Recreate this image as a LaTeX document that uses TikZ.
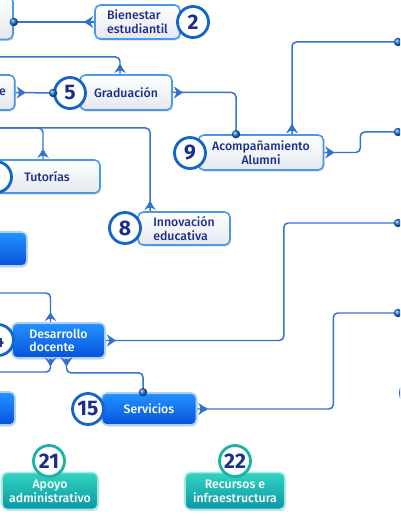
\documentclass[tikz,border=0pt]{standalone}
\usepackage{fontspec}
\setmainfont{Fira Sans}[UprightFont=* Medium, BoldFont=* Bold]
\usetikzlibrary{arrows.meta, calc, shadows, decorations.markings}

\definecolor{txtNavy}{HTML}{1C2E8C}
\definecolor{linkBlue}{HTML}{3472CF}
\definecolor{dotBlue}{HTML}{1670DC}
\definecolor{ringBlue}{HTML}{1565C8}
\definecolor{rimBlue}{HTML}{4A98E6}
\definecolor{boxBot}{HTML}{E4E8EF}
\definecolor{blueTop}{HTML}{2493FF}
\definecolor{blueBot}{HTML}{0552DA}
\definecolor{tealTop}{HTML}{33D3BF}
\definecolor{tealBot}{HTML}{0A97A6}
\definecolor{ringTeal}{HTML}{1AB3A6}

\tikzset{
  exitpos/.store in=\exitpos, exitpos=0.2cm,
  boxbase/.style={rectangle, rounded corners=3pt, inner xsep=3pt, inner ysep=1pt,
                  line width=0.9pt, font=\fontsize{7}{7.8}\selectfont,
                  drop shadow={shadow xshift=0.6pt, shadow yshift=-0.9pt, opacity=0.28}},
  wbox/.style={boxbase, draw=rimBlue, top color=white, bottom color=boxBot,
               text=txtNavy},
  bbox/.style={boxbase, draw=rimBlue!45, top color=blueTop, bottom color=blueBot,
               text=white},
  tbox/.style={boxbase, draw=tealTop!45, top color=tealTop, bottom color=tealBot,
               text=white},
  numc/.style={circle, draw=ringBlue, line width=1.6pt, fill=white,
               minimum size=0.62cm, inner sep=0pt, text=txtNavy,
               font=\fontsize{12}{12}\selectfont\bfseries,
               drop shadow={shadow xshift=0.5pt, shadow yshift=-0.8pt, opacity=0.25}},
  numcT/.style={numc, draw=ringTeal},
  exitmark/.style={decoration={markings,
      mark=at position \exitpos with {\draw[line width=1.8pt, linkBlue] (-4pt,0) -- (-1pt,0);
                                      \arrow{Stealth[length=5pt, width=6.5pt, inset=1.8pt]}}}},
  linkout/.style={draw=linkBlue, line width=0.85pt, rounded corners=2.5pt,
                  exitmark, postaction=decorate},
  link/.style={linkout, postaction={decorate, decoration={markings,
      mark=at position 1 with {\shade[ball color=dotBlue] (0,0) circle (2.4pt);}}}},
}

\begin{document}
\begin{tikzpicture}[x=0.02cm, y=-0.02cm]
    \useasboundingbox (0,0) rectangle (400,516);
    \clip (0,0) rectangle (400,516);

    %% white boxes
    \node[wbox, minimum width=1.08cm, minimum height=0.86cm] (leftA) at (-14,18) {};
    \node[wbox, minimum width=1.7cm, minimum height=0.68cm, align=left] (bien) at (137.5,22)
          {Bienestar\\estudiantil};
    \node[wbox, minimum width=1.48cm, minimum height=0.7cm, text width=1.2cm,
          inner xsep=5pt, align=right] (boxE) at (-24,92.5) {e};
    \node[wbox, minimum width=1.84cm, minimum height=0.7cm] (grad) at (126,92.5) {Graduación};
    \node[wbox, minimum width=2.5cm, minimum height=0.7cm, align=center] (acomp) at (261,152.5)
          {Acompañamiento\\Alumni};
    \node[wbox, minimum width=2.12cm, minimum height=0.66cm] (tut) at (47,176.5) {Tutorías};
    \node[wbox, minimum width=1.84cm, minimum height=0.66cm, align=left] (innov) at (184,228.5)
          {Innovación\\educativa};

    %% blue boxes
    \node[bbox, minimum width=1.36cm, minimum height=0.68cm] (lb1) at (-7,249) {};
    \node[bbox, minimum width=1.86cm, minimum height=0.7cm, align=left] (desa) at (58.5,340.5)
          {Desarrollo\\docente};
    \node[bbox, minimum width=1.1cm, minimum height=0.66cm] (lb2) at (-12.5,408.5) {};
    \node[bbox, minimum width=1.9cm, minimum height=0.64cm] (serv) at (149,409) {Servicios};

    %% teal boxes
    \node[tbox, minimum width=1.92cm, minimum height=0.74cm, align=center] (apoyo) at (50,491)
          {Apoyo\\administrativo};
    \node[tbox, minimum width=2.0cm, minimum height=0.74cm, align=center] (recur) at (235,491)
          {Recursos e\\infraestructura};

    %% number circles
    \node[numc] (c2) at (193,22) {2};
    \node[numc] (c5) at (70,93) {5};
    \node[numc] (c9) at (190,153) {9};
    \node[numc] (cT) at (-4,177) {};
    \node[numc] (c8) at (125,228) {8};
    \node[numc] (c4) at (-2,340) {4};
    \node[numc] (c15) at (88,409) {15};
    \node[numc] (cR) at (416,393) {};
    \node[numcT] (c21) at (49,461) {21};
    \node[numcT] (c22) at (235,461) {22};

    %% free ends at the picture border
    \coordinate (r1) at (398,42);
    \coordinate (r2) at (398,132);
    \coordinate (r3) at (398,223);
    \coordinate (r4) at (398,313);
    \coordinate (l1) at (-5,57);
    \coordinate (l2) at (-5,128);
    \coordinate (l3) at (-5,293);
    \coordinate (l4) at (-5,372);

    %% connectors
    \draw[link] (bien.west) -- (leftA.east |- bien.west);
    \draw[link] (boxE.east) -- (c5.west);
    \draw[link] (grad.east) -| ($(acomp.north)+(-25,0)$);
    \draw[linkout] ($(grad.north)+(-6,0)$) |- (l1);
    \draw[linkout] ($(tut.north)+(-4,0)$) |- (l2);
    \draw[linkout] ($(innov.north)+(-34,0)$) |- (l2);
    \draw[link] ($(acomp.north)+(31,0)$) |- (r1);
    \draw[link] (acomp.east) -- ++(36,0) |- (r2);
    \draw[link] (desa.east) -- ++(178,0) |- (r3);
    \draw[link] (serv.east) -- ++(136,0) |- (r4);
    \draw[linkout] ($(desa.north)+(-8,0)$) |- (l3);
    \draw[exitpos=0.15cm, linkout] ($(desa.south)+(-8,0)$) |- (l4);
    \draw[exitpos=0.15cm, link] ($(desa.south)+(8,0)$) -- ++(0,14) -| ($(serv.north)+(-6,0)$);
\end{tikzpicture}
\end{document}
